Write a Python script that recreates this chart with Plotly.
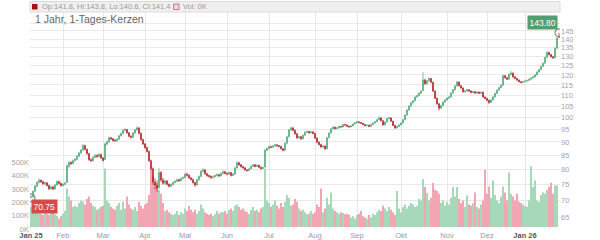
import math
import plotly.graph_objects as go
import pandas as pd

# ---------------- data ----------------
opens = [70.9,71.0,72.8,74.4,75.6,76.3,75.8,75.2,75.5,74.6,
73.6,74.2,73.5,74.8,75.9,75.3,74.6,75.0,75.6,81.0,
82.4,82.0,83.1,83.5,84.6,85.8,86.9,88.6,87.2,85.6,
83.4,83.0,84.2,84.9,84.5,85.3,84.0,83.5,89.2,90.0,
91.6,91.2,90.6,90.5,91.0,92.4,93.3,94.6,94.9,93.6,
92.2,91.8,93.5,94.8,95.6,93.4,90.9,89.2,87.8,86.4,
83.0,80.2,75.8,74.6,74.0,78.9,76.4,75.4,76.1,75.0,
74.4,74.9,75.6,76.0,76.5,76.2,76.9,77.2,78.3,78.0,
77.1,76.6,75.6,74.8,76.5,77.6,79.3,79.8,78.5,77.9,
77.6,77.2,77.5,77.9,78.2,77.8,78.6,79.2,78.6,78.4,
78.9,77.9,78.4,80.5,82.3,81.6,80.9,80.5,79.8,79.6,
80.2,81.0,81.6,81.0,81.4,80.7,80.3,80.8,86.8,87.5,
88.2,88.0,88.4,88.9,88.6,88.3,87.4,86.8,89.5,92.0,
94.8,95.6,94.6,93.2,91.6,92.0,91.2,92.6,93.8,94.1,
93.6,94.0,93.3,91.5,89.9,89.0,88.1,88.4,87.4,91.6,
93.5,95.2,95.9,95.3,95.6,96.2,96.0,97.0,96.8,96.3,
96.0,96.4,97.2,97.7,98.1,97.8,97.5,97.0,96.5,96.7,
96.2,97.0,97.6,98.2,99.0,99.8,98.6,96.8,98.0,99.5,
99.8,98.4,96.6,95.6,96.2,96.8,97.6,99.0,101.0,103.2,
105.0,106.5,107.4,109.2,109.8,111.0,112.2,117.5,115.6,117.0,
118.2,116.3,112.0,108.6,106.0,104.0,105.2,106.8,107.8,108.6,
109.2,111.0,112.6,114.5,116.4,114.6,113.5,111.6,112.0,112.6,
112.0,111.3,111.7,111.0,111.5,110.9,111.4,109.2,108.5,107.6,
106.6,107.8,109.2,110.8,112.4,113.6,114.8,119.6,118.6,117.8,
120.3,121.0,119.0,118.2,117.4,116.6,116.2,116.5,116.9,117.2,
117.8,118.4,119.0,120.0,121.5,122.8,124.5,126.2,129.4,132.2,
131.0,129.8,129.2,134.6,141.8]

highs = [71.6,73.0,74.8,76.0,77.0,76.6,76.2,75.9,75.7,74.9,
74.6,74.4,75.1,76.3,76.1,75.6,75.3,75.8,81.8,82.9,
82.8,83.5,84.0,85.0,86.2,87.4,89.2,88.9,87.4,85.9,
83.9,84.6,85.4,85.3,85.8,85.5,84.3,89.7,90.6,92.1,
92.0,91.5,91.2,91.5,92.8,93.7,95.0,95.5,95.2,93.9,
92.6,93.9,95.2,96.3,95.9,93.7,91.3,89.6,88.3,86.7,
83.4,80.6,77.0,75.4,80.4,79.4,77.2,76.5,76.4,75.3,
75.3,75.9,76.3,76.9,76.8,77.3,77.6,78.8,78.9,78.3,
77.4,76.9,75.9,76.9,77.9,79.8,80.4,80.0,78.8,78.2,
77.9,77.9,78.2,78.6,78.4,78.9,79.6,79.4,78.9,79.3,
79.1,78.7,80.9,82.9,82.6,81.9,81.3,80.8,80.1,80.5,
81.3,81.9,81.8,81.7,81.6,81.0,80.9,87.3,87.9,88.6,
88.5,88.8,89.3,89.1,88.8,88.5,87.7,89.8,92.3,95.2,
96.1,95.9,94.9,93.5,92.4,92.3,92.9,94.2,94.5,94.4,
94.3,94.2,93.6,91.8,90.2,89.3,88.8,88.6,92.0,93.8,
95.5,96.3,96.1,95.9,96.5,96.4,97.3,97.2,97.0,96.5,
96.7,97.5,98.0,98.5,98.3,98.0,97.7,97.2,97.0,96.9,
97.3,97.9,98.5,99.3,100.4,100.0,98.8,98.3,99.8,100.2,
100.0,98.6,96.9,96.5,97.1,97.9,99.3,101.3,103.5,105.3,
106.8,107.7,109.5,110.2,111.3,112.4,121.5,118.0,117.4,118.8,
118.5,116.6,112.3,108.9,106.4,105.6,107.2,108.2,109.0,109.6,
111.4,113.0,114.9,117.0,116.7,114.9,113.8,112.4,113.0,112.9,
112.3,112.1,112.0,111.9,111.8,111.8,111.7,109.5,108.8,107.9,
108.2,109.6,111.2,112.8,114.0,115.2,120.2,120.0,118.9,120.8,
122.0,121.3,119.4,118.5,117.7,116.9,116.9,117.3,117.6,118.2,
118.8,119.4,120.4,121.9,123.2,124.9,126.6,129.8,132.8,132.6,
131.4,130.2,135.0,141.0,143.8]

lows = [70.75,70.9,72.5,74.0,75.3,75.5,74.9,74.8,74.3,73.2,
73.3,73.1,73.4,74.6,75.0,74.3,74.4,74.7,75.4,80.6,
81.5,81.8,82.7,83.2,84.3,85.5,86.6,86.8,85.2,83.0,
82.6,82.8,84.0,84.1,84.3,83.7,82.7,83.3,88.7,89.7,
90.8,90.1,90.0,90.2,90.8,92.1,93.0,94.2,93.2,91.9,
91.3,91.6,93.2,94.5,93.0,90.5,88.8,87.4,86.0,82.5,
79.6,74.8,73.5,72.6,73.6,75.8,74.9,75.0,74.6,74.0,
74.1,74.6,75.3,75.7,75.8,76.0,76.6,77.0,77.6,76.8,
76.2,75.2,74.2,74.6,76.2,77.4,79.0,78.2,77.5,77.2,
76.8,77.0,77.3,77.6,77.4,77.6,78.4,78.3,78.0,78.2,
77.6,77.7,78.2,80.3,81.2,80.6,80.2,79.5,79.2,79.4,
80.0,80.8,80.7,80.8,80.4,79.9,80.1,80.6,86.5,87.2,
87.6,87.8,88.2,88.2,87.9,87.1,86.4,86.6,89.3,91.8,
94.5,94.2,92.8,91.2,91.3,90.8,91.0,92.4,93.5,93.2,
93.4,93.0,91.1,89.5,88.6,87.7,87.9,87.0,87.2,91.4,
93.3,95.0,95.0,95.1,95.4,95.7,95.8,96.5,96.0,95.7,
95.8,96.2,97.0,97.5,97.5,97.2,96.7,96.2,96.3,95.9,
96.0,96.8,97.4,98.0,98.8,98.3,96.5,96.6,97.8,99.2,
98.1,96.3,95.2,95.4,96.0,96.6,97.4,98.8,100.8,103.0,
104.8,106.2,107.2,108.9,109.5,110.7,112.0,115.0,115.3,116.7,
115.9,111.6,108.2,105.6,103.0,103.7,105.0,106.5,107.5,108.3,
109.0,110.7,112.3,114.2,114.2,113.1,111.2,111.4,111.8,111.6,
110.9,111.1,110.6,110.8,110.5,110.7,108.8,108.1,107.2,106.0,
106.4,107.6,109.0,110.6,112.2,113.4,114.6,118.2,117.4,117.6,
120.0,118.6,117.8,117.0,116.2,115.8,116.0,116.3,116.7,117.0,
117.6,118.2,118.8,119.8,121.3,122.6,124.3,126.0,129.2,130.5,
129.3,128.6,129.0,134.4,140.6]

closes = [71.0,72.8,74.4,75.6,76.3,75.8,75.2,75.5,74.6,73.6,
74.2,73.5,74.8,75.9,75.3,74.6,75.0,75.4,81.2,82.4,
82.0,83.1,83.5,84.6,85.8,86.9,88.6,87.2,85.6,83.4,
83.0,84.2,84.9,84.5,85.3,84.0,83.1,89.2,90.0,91.6,
91.2,90.6,90.5,91.0,92.4,93.3,94.6,94.9,93.6,92.2,
91.8,93.5,94.8,95.6,93.4,90.9,89.2,87.8,86.4,83.0,
80.2,75.8,74.6,73.8,78.9,76.4,75.4,76.1,75.0,74.4,
74.9,75.6,76.0,76.5,76.2,76.9,77.2,78.3,78.0,77.1,
76.6,75.6,74.8,76.5,77.6,79.3,79.8,78.5,77.9,77.6,
77.2,77.5,77.9,78.2,77.8,78.6,79.2,78.6,78.4,78.9,
77.9,78.4,80.5,82.3,81.6,80.9,80.5,79.8,79.6,80.2,
81.0,81.6,81.0,81.4,80.7,80.3,80.6,86.8,87.5,88.2,
88.0,88.4,88.9,88.6,88.3,87.4,86.8,89.5,92.0,94.8,
95.6,94.6,93.2,91.6,92.0,91.2,92.6,93.8,94.1,93.6,
94.0,93.3,91.5,89.9,89.0,88.1,88.4,87.4,91.6,93.5,
95.2,95.9,95.3,95.6,96.2,96.0,97.0,96.8,96.3,96.0,
96.4,97.2,97.7,98.1,97.8,97.5,97.0,96.5,96.7,96.2,
97.0,97.6,98.2,99.0,99.8,98.6,96.8,98.0,99.5,99.8,
98.4,96.6,95.6,96.2,96.8,97.6,99.0,101.0,103.2,105.0,
106.5,107.4,109.2,109.8,111.0,112.0,117.5,115.6,117.0,118.2,
116.3,112.0,108.6,106.0,104.0,105.2,106.8,107.8,108.6,109.2,
111.0,112.6,114.5,116.4,114.6,113.5,111.6,112.0,112.6,112.0,
111.3,111.7,111.0,111.5,110.9,111.4,109.2,108.5,107.6,106.6,
107.8,109.2,110.8,112.4,113.6,114.8,119.6,118.6,117.8,120.3,
121.0,119.0,118.2,117.4,116.6,116.2,116.5,116.9,117.2,117.8,
118.4,119.0,120.0,121.5,122.8,124.5,126.2,129.4,132.2,131.0,
129.8,129.2,134.6,140.6,141.4]

volumes_k = [150,130,180,120,110,100,90,140,100,90,
110,120,95,85,60,80,100,120,290,230,
200,150,160,150,180,200,190,170,210,230,
180,160,150,130,140,150,160,440,200,180,
150,140,130,160,180,130,190,140,230,170,
140,130,150,120,190,160,140,170,180,240,
430,380,300,350,280,250,180,120,130,110,
100,90,100,120,90,110,100,140,120,160,
130,110,130,100,120,170,140,110,100,90,
100,80,95,120,100,110,110,120,100,130,
140,120,160,170,150,130,140,120,110,100,
130,150,120,130,110,140,150,440,200,180,
150,170,200,160,140,180,150,190,240,220,
160,170,210,190,140,120,130,110,95,100,
120,100,110,170,150,290,110,140,220,170,
260,140,120,110,100,110,105,95,100,90,
70,80,60,90,100,120,80,70,60,90,
70,100,90,110,130,120,160,140,120,150,
130,110,90,270,140,110,150,170,140,160,
180,170,150,160,210,200,360,300,255,200,
220,330,280,270,250,180,200,160,190,170,
220,300,230,300,210,180,200,150,237,170,
160,180,260,150,140,170,200,430,250,305,
220,350,240,200,180,230,305,260,200,410,
250,230,200,250,190,180,170,160,150,200,
457,300,350,200,190,240,260,250,280,300,
333,250,312,312,0]

month_labels = ["Jan 25", "Feb", "Mar", "Apr", "Mai", "Jun", "Jul",
                "Aug", "Sep", "Okt", "Nov", "Dez", "Jan 26"]
price_ticks = [65, 70, 75, 80, 85, 90, 95, 100, 105, 110, 115, 120,
               125, 130, 135, 140, 145, 150]
volume_ticks = [0, 100000, 200000, 300000, 400000, 500000]
volume_tick_labels = ["0K", "100K", "200K", "300K", "400K", "500K"]
holidays = ["2025-04-18", "2025-04-21", "2025-05-01", "2025-12-24",
            "2025-12-25", "2025-12-26", "2025-12-31", "2026-01-01"]
low_value = 70.75
high_value = 143.80
header_text = "Op:141.8, Hi:143.8, Lo:140.6, Cl:141.4"
volume_header = "Vol: 0K"
title_text = "1 Jahr, 1-Tages-Kerzen"

# ---------------- derived helpers ----------------
n = len(closes)
dates = pd.bdate_range("2025-01-10", periods=n, freq="C", holidays=holidays)
idx = list(range(n))
periods = dates.to_period("M")
tick_pos = [0] + [i for i in range(1, n) if periods[i] != periods[i - 1]]
tick_text = []
for lab in month_labels:
    if " " in lab:
        tick_text.append('<b><span style="color:#555">' + lab + '</span></b>')
    else:
        tick_text.append(lab)

INC = "#4aa572"
DEC = "#b3161d"
VINC = "#a6d8ba"
VDEC = "#f2a6b3"
GRID = "#e8e8e8"
FONT = "Liberation Sans, Arial, sans-serif"

vol_colors = [VINC if c >= o else VDEC for o, c in zip(opens, closes)]

fig = go.Figure()
fig.add_trace(go.Bar(
    x=idx, y=[v * 1000 for v in volumes_k], marker_color=vol_colors,
    marker_line_width=0, yaxis="y", hoverinfo="skip"))
fig.add_trace(go.Candlestick(
    x=idx, open=opens, high=highs, low=lows, close=closes, yaxis="y2",
    whiskerwidth=0,
    increasing=dict(line=dict(color=INC, width=0.7), fillcolor=INC),
    decreasing=dict(line=dict(color=DEC, width=0.7), fillcolor=DEC)))
fig.add_trace(go.Scatter(
    x=[0, n - 1], y=[low_value, high_value], mode="markers", yaxis="y2",
    marker=dict(symbol="circle-open", size=8, color="#8a8a8a",
                line=dict(width=1.2, color="#8a8a8a")),
    hoverinfo="skip"))

PH = 215.0
PW = 530.0
def px_x(p):
    return (p - 30) / PW
def px_y(p):
    return 1 + (12 - p) / PH

shapes = [
    dict(type="rect", xref="paper", yref="paper", x0=0, x1=1,
         y0=1, y1=px_y(1.5), fillcolor="#efefef",
         line=dict(color="#dcdcdc", width=1), layer="above"),
    dict(type="rect", xref="paper", yref="paper", x0=px_x(32), x1=px_x(37.5),
         y0=px_y(9.5), y1=px_y(4), fillcolor="#a51212", line=dict(width=0),
         layer="above"),
    dict(type="rect", xref="paper", yref="paper", x0=px_x(173.5), x1=px_x(179),
         y0=px_y(9.5), y1=px_y(4), fillcolor="#f7d2d8",
         line=dict(color="#d9748a", width=1), layer="above"),
]

annotations = [
    dict(text=header_text, xref="paper", yref="paper", x=px_x(40), y=px_y(7),
         xanchor="left", yanchor="middle", showarrow=False,
         font=dict(size=7.5, color="#9a9a9a", family=FONT)),
    dict(text=volume_header, xref="paper", yref="paper", x=px_x(181), y=px_y(7),
         xanchor="left", yanchor="middle", showarrow=False,
         font=dict(size=7.5, color="#9a9a9a", family=FONT)),
    dict(text=title_text, xref="paper", yref="paper", x=px_x(32.5), y=px_y(19),
         xanchor="left", yanchor="middle", showarrow=False,
         font=dict(size=10.5, color="#666666", family=FONT)),
    dict(text=f"{low_value:.2f}", x=0, y=math.log10(low_value),
         xref="x", yref="y2", xanchor="left", yanchor="top", showarrow=False,
         xshift=0, yshift=-1.5, bgcolor="#d64a4a", borderpad=1.5,
         font=dict(size=8.5, color="white", family=FONT)),
    dict(text=f"{high_value:.2f}", x=n - 1, y=math.log10(high_value),
         xref="x", yref="y2", xanchor="right", yanchor="bottom", showarrow=False,
         xshift=-1, yshift=3, bgcolor="#4f9f6f", borderpad=1.5,
         font=dict(size=8.5, color="white", family=FONT)),
]

fig.update_layout(
    width=600, height=240,
    margin=dict(l=30, r=40, t=12, b=13, pad=0, autoexpand=False),
    paper_bgcolor="white", plot_bgcolor="white",
    showlegend=False, bargap=0.35, boxgap=0.45,
    font=dict(family=FONT, size=8, color="#999999"),
    shapes=shapes, annotations=annotations,
    xaxis=dict(range=[-0.5, n - 0.5], tickmode="array", tickvals=tick_pos,
               ticktext=tick_text, showgrid=True, gridcolor=GRID, gridwidth=1,
               zeroline=False, showline=False, ticks="", automargin=False,
               ticklabelstandoff=2,
               tickfont=dict(size=7.5, color="#9a9a9a"),
               rangeslider=dict(visible=False), fixedrange=True),
    yaxis=dict(side="left", range=[0, 1617000], tickmode="array",
               tickvals=volume_ticks, ticktext=volume_tick_labels,
               showgrid=False, zeroline=False, ticks="", automargin=False,
               ticklabelshift=2,
               tickfont=dict(size=7.5, color="#a5a5a5")),
    yaxis2=dict(side="right", overlaying="y", type="log",
                range=[1.7955, 2.1967], tickmode="array", tickvals=price_ticks,
                ticktext=[str(t) if t <= 145 else "" for t in price_ticks],
                showgrid=True, gridcolor=GRID, gridwidth=1, zeroline=False,
                ticks="", automargin=False,
                tickfont=dict(size=7.5, color="#a5a5a5")),
)

fig.write_html("out.html")
